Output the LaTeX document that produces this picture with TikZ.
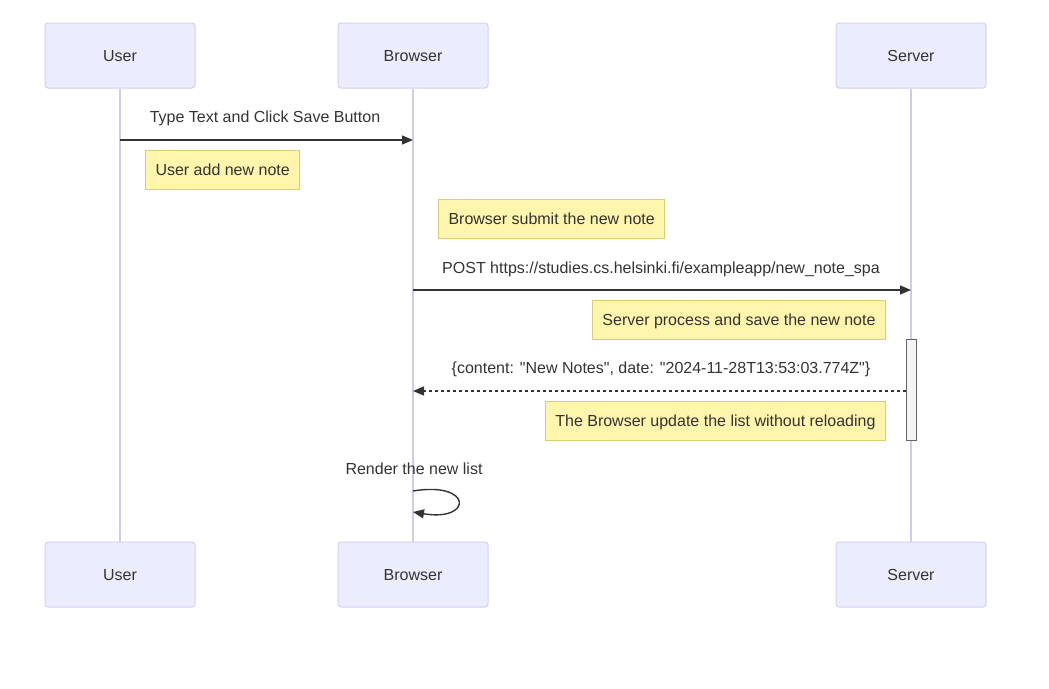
\documentclass[tikz,border=0pt]{standalone}
\usepackage{fontspec}
\setmainfont{Liberation Sans}
\newfontfamily\diagfont{Liberation Sans}
\usetikzlibrary{arrows.meta}
\definecolor{actorfill}{HTML}{ECECFF}
\definecolor{actorline}{HTML}{D5CFF2}
\definecolor{lifeline}{HTML}{D3C9F0}
\definecolor{notefill}{HTML}{FFF5AD}
\definecolor{noteline}{HTML}{D6CE76}
\definecolor{msgcol}{HTML}{333333}
\definecolor{actfill}{HTML}{F4F4F4}
\definecolor{actline}{HTML}{666666}
\begin{document}
\begin{tikzpicture}[x=1pt,y=-1pt,
  every node/.style={font=\diagfont\fontsize{16}{19}\selectfont, text=msgcol, inner sep=0pt,
    text height=13pt, text depth=2pt},
  actor/.style={draw=actorline, fill=actorfill, line width=1pt, rounded corners=3pt,
    minimum width=150pt, minimum height=65pt, text height=13.5pt, text depth=1.5pt},
  life/.style={draw=lifeline, line width=1.5pt},
  note/.style={draw=noteline, fill=notefill, line width=1pt, inner xsep=10pt, minimum height=39pt},
  msg/.style={draw=msgcol, line width=1.4pt, -{Triangle[length=11pt,width=9pt]}},
  reply/.style={msg, dash pattern=on 3pt off 3pt},
  lbl/.style={anchor=base}
]
\useasboundingbox (0,0) rectangle (1049,688);

% participants, top and bottom
\node[actor] (userT)    at (120,55.5)  {User};
\node[actor] (browserT) at (413,55.5)  {Browser};
\node[actor] (serverT)  at (911,55.5)  {Server};
\node[actor] (userB)    at (120,574.5) {User};
\node[actor] (browserB) at (413,574.5) {Browser};
\node[actor] (serverB)  at (911,574.5) {Server};

% lifelines
\draw[life] (userT.south) -- (userB.north);
\draw[life] (browserT.south) -- (browserB.north);
\draw[life] (serverT.south) -- (serverB.north);

% activation of the server
\node[draw=actline, fill=actfill, line width=1pt, minimum width=10pt, minimum height=101pt,
  text height=0pt, text depth=0pt] (act) at (911,389.5) {};

% lifeline anchor points
\coordinate (u1) at (120,140);
\coordinate (b1) at (413,140);
\coordinate (b2) at (413,290);
\coordinate (s2) at (911,290);
\coordinate (s3) at (906,391);
\coordinate (b3) at (413,391);
\coordinate (b4a) at (413,491);
\coordinate (b4b) at (413,512);

% messages
\draw[msg] (u1) -- (b1);
\node[lbl] (m1) at (265,122) {Type Text and Click Save Button};

\node[note, anchor=north west] (n1) at (145,150) {User add new note};
\node[note, anchor=north west] (n2) at (438,199) {Browser submit the new note};

\draw[msg] (b2) -- (s2);
\node[lbl] (m2) at (661,273) {POST https://studies.cs.helsinki.fi/exampleapp/new\_note\_spa};

\node[note, anchor=north east] (n3) at (886,299.5) {Server process and save the new note};

\draw[reply] (s3) -- (b3);
\node[lbl] (m3) at (661,373) {\{content: "New Notes", date: "2024-11-28T13:53:03.774Z"\}};

\node[note, anchor=north east] (n4) at (886,400.5) {The Browser update the list without reloading};

% self message
\node[lbl] (m4) at (414,474) {Render the new list};
\draw[msg] (b4a) .. controls (473,481) and (473,522) .. (b4b);
\end{tikzpicture}
\end{document}
